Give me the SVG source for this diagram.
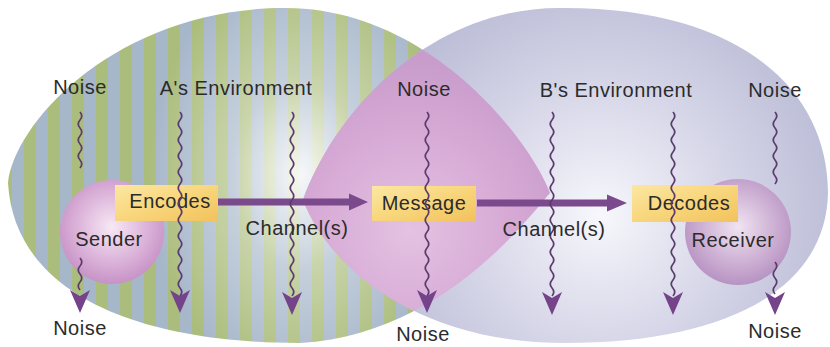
<svg xmlns="http://www.w3.org/2000/svg" xmlns:xlink="http://www.w3.org/1999/xlink" width="830" height="347" viewBox="0 0 830 347">
<style>
  text { font-family: "Liberation Sans", Arial, sans-serif; font-size: 20px; fill: #2b2b2b; letter-spacing: 0.5px; text-anchor: middle; }
  .wave { fill: none; stroke: #5b3a6c; stroke-width: 1.7; }
  .head { fill: #74438a; }
  .arrow { fill: #7b4a8d; }
  .box { fill: url(#boxGrad); }
</style>
<defs>
  <pattern id="stripes" patternUnits="userSpaceOnUse" width="24" height="24">
    <rect x="0" y="0" width="12" height="24" fill="#abbd7c"/>
    <rect x="12" y="0" width="12" height="24" fill="#a7b7ca"/>
  </pattern>
  <radialGradient id="leftGlow" gradientUnits="userSpaceOnUse" cx="300" cy="175" r="190" gradientTransform="translate(300 175) scale(0.8 1.1) translate(-300 -175)">
    <stop offset="0" stop-color="#ffffff" stop-opacity="0.9"/>
    <stop offset="0.45" stop-color="#ffffff" stop-opacity="0.35"/>
    <stop offset="1" stop-color="#ffffff" stop-opacity="0"/>
  </radialGradient>
  <radialGradient id="rightGrad" gradientUnits="userSpaceOnUse" cx="600" cy="215" r="260">
    <stop offset="0" stop-color="#f7f7fc"/>
    <stop offset="0.45" stop-color="#d9d9ea"/>
    <stop offset="1" stop-color="#b7b9d4"/>
  </radialGradient>
  <radialGradient id="lensGrad" gradientUnits="userSpaceOnUse" cx="410" cy="230" r="170">
    <stop offset="0" stop-color="#e4c2e2"/>
    <stop offset="0.6" stop-color="#d6a9d5"/>
    <stop offset="1" stop-color="#c89ccb"/>
  </radialGradient>
  <radialGradient id="senderGrad" cx="0.5" cy="0.45" r="0.55">
    <stop offset="0" stop-color="#f7e8f4"/>
    <stop offset="0.6" stop-color="#dcb4da"/>
    <stop offset="1" stop-color="#c792c6"/>
  </radialGradient>
  <radialGradient id="receiverGrad" cx="0.5" cy="0.45" r="0.55">
    <stop offset="0" stop-color="#f0e4f1"/>
    <stop offset="0.6" stop-color="#cfb2d5"/>
    <stop offset="1" stop-color="#b793c2"/>
  </radialGradient>
  <linearGradient id="boxGrad" x1="0" y1="0" x2="1" y2="1">
    <stop offset="0" stop-color="#fbe7a2"/>
    <stop offset="0.5" stop-color="#f8d67c"/>
    <stop offset="1" stop-color="#f2c25c"/>
  </linearGradient>
  <path id="leftShape" d="M 8 183 C 15 120, 120 8, 285 8 C 430 8, 530 140, 550 193 C 525 222, 440 335, 300 343 C 150 343, 15 300, 8 183 Z"/>
  <path id="rightShape" d="M 828 193 C 828 90, 740 8, 565 8 C 440 5, 340 100, 303 200 C 330 270, 420 343, 565 343 C 725 343, 826 290, 828 193 Z"/>
  <clipPath id="leftClip"><use xlink:href="#leftShape"/></clipPath>
  <path id="ah" d="M -10 0 L 0 6 L 10 0 L 0 23 Z"/>
</defs>

<g id="environments">
  <use xlink:href="#leftShape" fill="url(#stripes)"/>
  <use xlink:href="#leftShape" fill="url(#leftGlow)"/>
  <use xlink:href="#rightShape" fill="url(#rightGrad)"/>
  <use xlink:href="#rightShape" fill="url(#lensGrad)" clip-path="url(#leftClip)"/>
</g>

<g id="hidden-noise">
  <path class="wave" d="M 80 112 q 3.5 4 0 8 t0 8 t0 8 t0 8 t0 8 t0 8 t0 8"/>
  <path class="wave" d="M 775 112 q 3.5 4 0 8 t0 8 t0 8 t0 8 t0 8 t0 8 t0 8 t0 8 t0 8"/>
</g>

<g id="sender">
  <circle cx="112" cy="232" r="52" fill="url(#senderGrad)"/>
  <text x="109" y="246">Sender</text>
</g>
<g id="receiver">
  <circle cx="738" cy="232" r="53" fill="url(#receiverGrad)"/>
  <text x="733" y="247">Receiver</text>
</g>

<g id="encodes">
  <rect class="box" x="115" y="185" width="103" height="36"/>
  <text x="170" y="208">Encodes</text>
</g>
<g id="message">
  <rect class="box" x="372" y="186" width="104" height="35"/>
  <text x="424" y="210">Message</text>
</g>
<g id="decodes">
  <rect class="box" x="632" y="185" width="106" height="37"/>
  <text x="689" y="210">Decodes</text>
</g>

<g id="connectors">
  <path class="arrow" d="M 218 198.5 H 349 V 193.5 L 368 202 L 349 210.5 V 205.5 H 218 Z"/>
  <path class="arrow" d="M 477 199.5 H 607 V 194.5 L 627 203 L 607 211.5 V 206.5 H 477 Z"/>

  <path class="wave" d="M 80 258 q 3.5 4 0 8 t0 8 t0 8 t0 8"/>
  <path class="wave" d="M 775 262 q 3.5 4 0 8 t0 8 t0 8 t0 8"/>
  <path class="wave" d="M 180 112 q 3.5 4 0 8 t0 8 t0 8 t0 8 t0 8 t0 8 t0 8 t0 8 t0 8 t0 8 t0 8 t0 8 t0 8 t0 8 t0 8 t0 8 t0 8 t0 8 t0 8 t0 8 t0 8 t0 8 t0 8"/>
  <path class="wave" d="M 292 112 q 3.5 4 0 8 t0 8 t0 8 t0 8 t0 8 t0 8 t0 8 t0 8 t0 8 t0 8 t0 8 t0 8 t0 8 t0 8 t0 8 t0 8 t0 8 t0 8 t0 8 t0 8 t0 8 t0 8 t0 8"/>
  <path class="wave" d="M 427 112 q 3.5 4 0 8 t0 8 t0 8 t0 8 t0 8 t0 8 t0 8 t0 8 t0 8 t0 8 t0 8 t0 8 t0 8 t0 8 t0 8 t0 8 t0 8 t0 8 t0 8 t0 8 t0 8 t0 8 t0 8"/>
  <path class="wave" d="M 552 112 q 3.5 4 0 8 t0 8 t0 8 t0 8 t0 8 t0 8 t0 8 t0 8 t0 8 t0 8 t0 8 t0 8 t0 8 t0 8 t0 8 t0 8 t0 8 t0 8 t0 8 t0 8 t0 8 t0 8 t0 8"/>
  <path class="wave" d="M 673 112 q 3.5 4 0 8 t0 8 t0 8 t0 8 t0 8 t0 8 t0 8 t0 8 t0 8 t0 8 t0 8 t0 8 t0 8 t0 8 t0 8 t0 8 t0 8 t0 8 t0 8 t0 8 t0 8 t0 8 t0 8"/>

  <use class="head" xlink:href="#ah" x="80" y="290"/>
  <use class="head" xlink:href="#ah" x="180" y="290"/>
  <use class="head" xlink:href="#ah" x="292" y="292"/>
  <use class="head" xlink:href="#ah" x="427" y="290"/>
  <use class="head" xlink:href="#ah" x="552" y="292"/>
  <use class="head" xlink:href="#ah" x="673" y="292"/>
  <use class="head" xlink:href="#ah" x="775" y="292"/>
</g>

<g id="labels">
  <text x="80" y="94">Noise</text>
  <text x="236" y="95">A's Environment</text>
  <text x="424" y="96">Noise</text>
  <text x="616" y="97">B's Environment</text>
  <text x="775" y="97">Noise</text>
  <text x="297" y="235">Channel(s)</text>
  <text x="554" y="236">Channel(s)</text>
  <text x="80" y="335">Noise</text>
  <text x="423" y="341">Noise</text>
  <text x="775" y="338">Noise</text>
</g>
</svg>
